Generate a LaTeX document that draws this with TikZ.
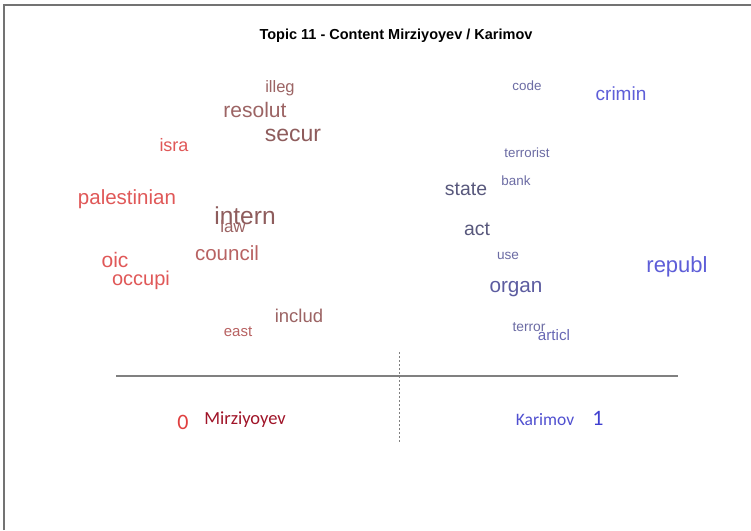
\documentclass[tikz,border=0pt]{standalone}
\usepackage{fontspec}
\setmainfont{Liberation Sans}
\newfontfamily\calib{Carlito}
\begin{document}
\begin{tikzpicture}[x=1pt,y=-1pt,
  w/.style={inner sep=0pt,anchor=center},
  frameline/.style={draw=black!55,line width=2pt},
  axis/.style={draw=black!50,line width=1.6pt},
  sep/.style={draw=black!50,line width=1pt,dash pattern=on 2pt off 2pt}]
\useasboundingbox (0,0) rectangle (751,530);
\fill[white] (0,0) rectangle (751,530);
\draw[frameline] (4,530) -- (4,5) -- (751,5);
% title
\node[w] (title) at (396,36) {\fontsize{14.5}{16}\selectfont\bfseries Topic 11 - Content Mirziyoyev / Karimov};
% left words
\definecolor{cA}{HTML}{9C6464}
\definecolor{cB}{HTML}{8E5C5C}
\definecolor{cR}{HTML}{E05858}
\definecolor{cC}{HTML}{B86262}
\node[w,text=cA] (illeg) at (280,88) {\fontsize{16.5}{18}\selectfont illeg};
\node[w,text=cA] (resolut) at (255,110) {\fontsize{21}{24}\selectfont resolut};
\node[w,text=cB] (secur) at (293,135) {\fontsize{23}{26}\selectfont secur};
\node[w,text=cR] (isra) at (174,145) {\fontsize{18}{20}\selectfont isra};
\node[w,text=cR] (palestinian) at (127,199) {\fontsize{20.5}{23}\selectfont palestinian};
\node[w,text=cB] (intern) at (245,216) {\fontsize{24.5}{27}\selectfont intern};
\node[w,text=cA] (law) at (233,226) {\fontsize{17}{19}\selectfont law};
\node[w,text=cC] (council) at (227,253) {\fontsize{20.5}{23}\selectfont council};
\node[w,text=cR] (oic) at (115,260) {\fontsize{21}{24}\selectfont oic};
\node[w,text=cR] (occupi) at (141,280) {\fontsize{20}{23}\selectfont occupi};
\node[w,text=cA] (includ) at (299,316) {\fontsize{18.5}{21}\selectfont includ};
\node[w,text=cC] (east) at (238,332) {\fontsize{15}{17}\selectfont east};
% right words
\definecolor{bA}{HTML}{6C6CA4}
\definecolor{bD}{HTML}{58587C}
\definecolor{bB}{HTML}{5E5ED8}
\definecolor{bC}{HTML}{5C5CA0}
\node[w,text=bA] (code) at (527,86) {\fontsize{13.4}{15}\selectfont code};
\node[w,text=bB] (crimin) at (621,94) {\fontsize{19}{21}\selectfont crimin};
\node[w,text=bA] (terrorist) at (527,153) {\fontsize{13.3}{15}\selectfont terrorist};
\node[w,text=bA] (bank) at (516,181) {\fontsize{13.4}{15}\selectfont bank};
\node[w,text=bD] (state) at (466,189) {\fontsize{19.4}{22}\selectfont state};
\node[w,text=bD] (act) at (477,229) {\fontsize{19.4}{22}\selectfont act};
\node[w,text=bA] (use) at (508,256) {\fontsize{13.6}{15}\selectfont use};
\node[w,text=bB] (republ) at (677,267) {\fontsize{22}{25}\selectfont republ};
\node[w,text=bC] (organ) at (516,289) {\fontsize{20.7}{23}\selectfont organ};
\node[w,text=bA] (terror) at (529,327) {\fontsize{13.8}{15}\selectfont terror};
\node[w,text=bA!70!bB] (articl) at (554,335) {\fontsize{15.2}{17}\selectfont articl};
% axis
\coordinate (axL) at (116,376);
\coordinate (axR) at (678,376);
\coordinate (sepT) at (399,352);
\coordinate (sepB) at (399,442);
\draw[axis] (axL) -- (axR);
\draw[sep] (sepT) -- (sepB);
% bottom labels
\node[w,text={rgb,255:red,224;green,64;blue,64}] (zero) at (183,422) {\calib\fontsize{22}{24}\selectfont 0};
\node[w,text={rgb,255:red,160;green,20;blue,40}] (mirz) at (245,420) {\calib\fontsize{18.5}{21}\selectfont Mirziyoyev};
\node[w,text={rgb,255:red,80;green,80;blue,208}] (karim) at (545,420) {\calib\fontsize{17.5}{20}\selectfont Karimov};
\node[w,text={rgb,255:red,64;green,64;blue,208}] (one) at (598,418) {\calib\fontsize{22}{25}\selectfont 1};
\end{tikzpicture}
\end{document}
